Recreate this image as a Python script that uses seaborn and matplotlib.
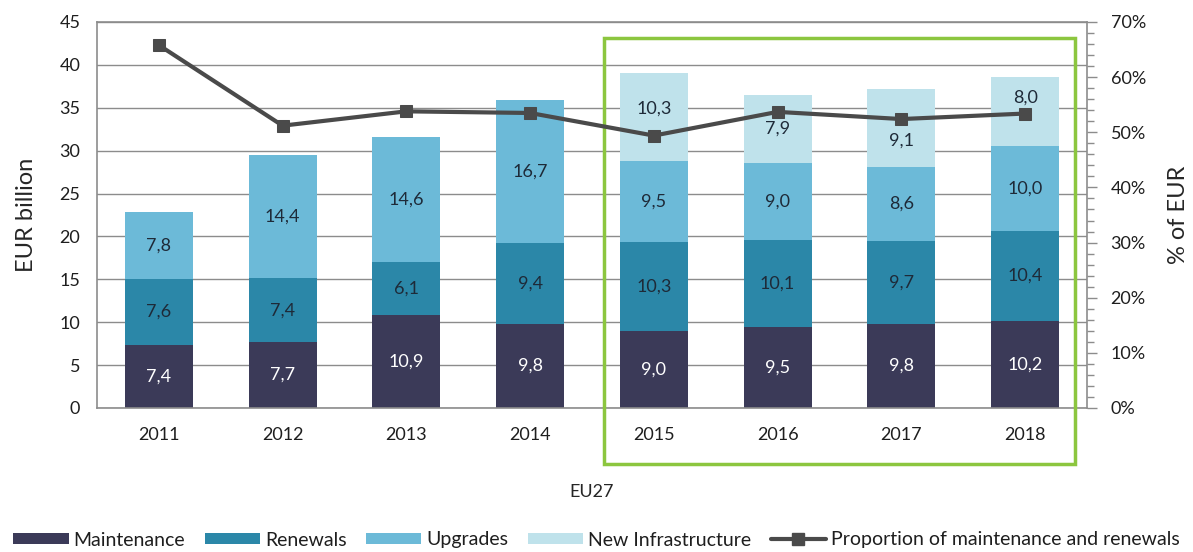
import matplotlib
matplotlib.use("Agg")
import matplotlib.pyplot as plt
import seaborn as sns
import numpy as np
from matplotlib.patches import Rectangle, Patch
from matplotlib.lines import Line2D
from matplotlib.ticker import PercentFormatter, MultipleLocator

# ---- data ----
years = ["2011", "2012", "2013", "2014", "2015", "2016", "2017", "2018"]
maintenance = [7.4, 7.7, 10.9, 9.8, 9.0, 9.5, 9.8, 10.2]
renewals = [7.6, 7.4, 6.1, 9.4, 10.3, 10.1, 9.7, 10.4]
upgrades = [7.8, 14.4, 14.6, 16.7, 9.5, 9.0, 8.6, 10.0]
new_infrastructure = [0.0, 0.0, 0.0, 0.0, 10.3, 7.9, 9.1, 8.0]
proportion_pct = [65.8, 51.2, 53.8, 53.5, 49.4, 53.7, 52.4, 53.4]
series_names = ["Maintenance", "Renewals", "Upgrades", "New Infrastructure"]
line_name = "Proportion of maintenance and renewals"

# ---- style ----
colors = ["#3b3a58", "#2b87a8", "#6cbad8", "#bfe2eb"]
label_colors = ["white", "#1e2a38", "#1e2a38", "#1e2a38"]
# vertical nudges (points) for labels of the New Infrastructure segments
newinfra_label_offsets = [0, 0, 0, 0, 6, 0, -9, 10]
line_color = "#4a4a4a"
grid_color = "#8c8c8c"
green = "#8cc63f"
tick_fs = 13
label_fs = 13

sns.set_theme(style="white")
plt.rcParams["font.family"] = ["Lato", "DejaVu Sans"]
plt.rcParams["text.color"] = "#1e1e1e"

fig = plt.figure(figsize=(11.93, 5.52), dpi=100)
ax = fig.add_axes([97 / 1193, 1 - 408 / 552, 990 / 1193, 386 / 552])

layers = [maintenance, renewals, upgrades, new_infrastructure]
bottom = np.zeros(len(years))
bar_width = 0.55
for i, (vals, col) in enumerate(zip(layers, colors)):
    vals = np.asarray(vals, dtype=float)
    sns.barplot(x=years, y=vals, order=years, bottom=bottom, color=col,
                saturation=1, width=bar_width, errorbar=None, linewidth=0,
                ax=ax, zorder=2)
    for j, v in enumerate(vals):
        if v <= 0:
            continue
        off = newinfra_label_offsets[j] if i == 3 else 0
        ax.annotate(f"{v:.1f}".replace(".", ","), (j, bottom[j] + v / 2),
                    xytext=(0, off), textcoords="offset points",
                    ha="center", va="center", fontsize=label_fs,
                    color=label_colors[i], zorder=4)
    bottom = bottom + vals

ax.set_xlim(-0.5, 7.5)
ax.set_ylim(0, 45)
ax.set_yticks(np.arange(0, 46, 5))
ax.yaxis.grid(True, color=grid_color, lw=1)
ax.set_axisbelow(True)
for s in ["left", "bottom", "top"]:
    ax.spines[s].set_visible(True)
    ax.spines[s].set_color(grid_color)
    ax.spines[s].set_linewidth(1.2)
ax.spines["right"].set_visible(False)
ax.tick_params(axis="y", length=0, pad=12, labelsize=tick_fs, labelcolor="#1e1e1e")
ax.tick_params(axis="x", length=0, pad=14, labelsize=tick_fs, labelcolor="#1e1e1e")
ax.set_ylabel("EUR billion", fontsize=17, labelpad=16)
ax.set_xlabel("EU27", fontsize=tick_fs, labelpad=29)

# secondary axis with line
ax2 = ax.twinx()
sns.lineplot(x=years, y=np.asarray(proportion_pct) / 100, ax=ax2, sort=False,
             color=line_color, lw=3, marker="s", markersize=9,
             markeredgecolor=line_color, markerfacecolor=line_color, zorder=5)
ax2.set_ylim(0, 0.70)
ax2.set_yticks(np.arange(0, 0.71, 0.10))
ax2.yaxis.set_minor_locator(MultipleLocator(0.02))
ax2.yaxis.set_major_formatter(PercentFormatter(1.0, decimals=0))
ax2.tick_params(axis="y", which="major", direction="out", length=7, width=1,
                color=grid_color, pad=10, labelsize=tick_fs, labelcolor="#1e1e1e")
ax2.tick_params(axis="y", which="minor", direction="out", length=5, width=1,
                color=grid_color)
ax2.yaxis.set_ticks_position("right")
for s in ["left", "bottom", "top"]:
    ax2.spines[s].set_visible(False)
ax2.spines["right"].set_visible(True)
ax2.spines["right"].set_color(grid_color)
ax2.spines["right"].set_linewidth(1.2)
ax2.set_ylabel("% of EUR", fontsize=17, labelpad=16)
ax2.grid(False)

# highlight box around 2015-2018
ax.add_patch(Rectangle((3.595, -6.55), 3.81, 49.7, fill=False, ec=green,
                       lw=2.5, clip_on=False, zorder=6))

# legend
handles = [Patch(facecolor=c, edgecolor="none") for c in colors]
handles.append(Line2D([0], [0], color=line_color, lw=3, marker="s",
                      markersize=8, markerfacecolor=line_color,
                      markeredgecolor=line_color))
fig.legend(handles, series_names + [line_name], loc="center",
           bbox_to_anchor=(0.5, 1 - 540 / 552), ncol=5, frameon=False,
           fontsize=14, handlelength=2.85, handleheight=0.45,
           handletextpad=0.25, columnspacing=1.0)

fig.savefig("out.png", dpi=100)
